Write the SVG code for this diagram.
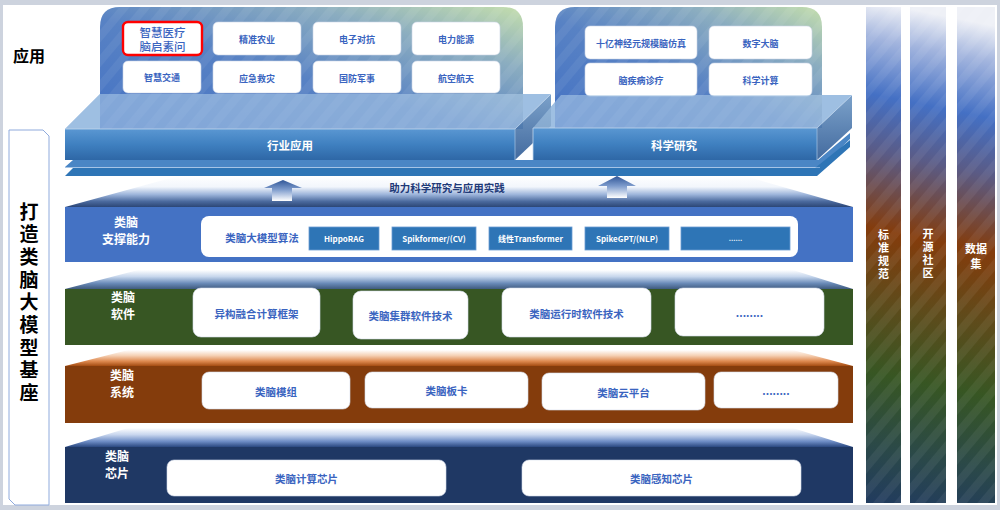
<svg xmlns="http://www.w3.org/2000/svg" width="1000" height="510" viewBox="0 0 1000 510">
  <defs>
    <style>
      text { font-family: "Noto Sans CJK SC", "Liberation Sans", sans-serif; text-anchor: middle; dominant-baseline: central; }
      .vert { writing-mode: vertical-rl; text-orientation: upright; }
      .card { fill: #ffffff; stroke: #c9d3e6; stroke-width: 0.6; }
      .card-t { fill: #3a64c0; font-size: 9px; font-weight: 700; }
      .item { fill: #ffffff; stroke: #d5dceb; stroke-width: 0.6; }
      .item-t { fill: #3a64c0; font-size: 10.5px; font-weight: 700; }
      .layer-t { fill: #ffffff; font-size: 12px; font-weight: 700; }
      .tag { fill: #2e75b6; stroke: #6a9bd3; stroke-width: 0.8; }
      .tag-t { fill: #ffffff; font-size: 8px; font-weight: 700; }
      .col-t { fill: #ffffff; font-size: 11px; font-weight: 700; }
      .slab-t { fill: #ffffff; font-size: 11.5px; font-weight: 700; }
      .streak { fill: url(#streaks); }
    </style>

    <!-- application panels -->
    <linearGradient id="panelFill" x1="0" y1="1" x2="1" y2="0">
      <stop offset="0" stop-color="#4472c4"/>
      <stop offset="0.45" stop-color="#5882c4"/>
      <stop offset="0.75" stop-color="#8badc0"/>
      <stop offset="1" stop-color="#c4deac"/>
    </linearGradient>
    <pattern id="streaks" width="16" height="16" patternUnits="userSpaceOnUse" patternTransform="rotate(40)">
      <rect width="8" height="16" fill="#ffffff" opacity="0.06"/>
    </pattern>

    <!-- platform slabs -->
    <linearGradient id="slabFront" x1="0" y1="0" x2="0" y2="1">
      <stop offset="0" stop-color="#5a97d2"/>
      <stop offset="0.5" stop-color="#3f80c0"/>
      <stop offset="1" stop-color="#2e67a6"/>
    </linearGradient>
    <linearGradient id="slabSide" x1="0" y1="0" x2="0" y2="1">
      <stop offset="0" stop-color="#6d97c4"/>
      <stop offset="1" stop-color="#2e5a94"/>
    </linearGradient>

    <!-- layer lids -->
    <linearGradient id="lidSupport" x1="0" y1="0" x2="0" y2="1">
      <stop offset="0" stop-color="#ffffff"/>
      <stop offset="0.35" stop-color="#f2f6fc"/>
      <stop offset="0.6" stop-color="#9cb4da"/>
      <stop offset="0.82" stop-color="#4b6a9e"/>
      <stop offset="1" stop-color="#2c4676"/>
    </linearGradient>
    <linearGradient id="lidSoftware" x1="0" y1="0" x2="0" y2="1">
      <stop offset="0" stop-color="#ffffff"/>
      <stop offset="0.35" stop-color="#c6d6ec"/>
      <stop offset="0.7" stop-color="#6a8bb8"/>
      <stop offset="1" stop-color="#3f5a7e"/>
    </linearGradient>
    <linearGradient id="lidSystem" x1="0" y1="0" x2="0" y2="1">
      <stop offset="0" stop-color="#ffffff"/>
      <stop offset="0.35" stop-color="#f5d0b4"/>
      <stop offset="0.7" stop-color="#de8a50"/>
      <stop offset="1" stop-color="#a44c12"/>
    </linearGradient>
    <linearGradient id="lidChip" x1="0" y1="0" x2="0" y2="1">
      <stop offset="0" stop-color="#ffffff"/>
      <stop offset="0.35" stop-color="#c8d6ee"/>
      <stop offset="0.7" stop-color="#6f8ec6"/>
      <stop offset="1" stop-color="#2a4880"/>
    </linearGradient>

    <!-- upward arrows -->
    <linearGradient id="arrowFill" x1="0" y1="0" x2="0" y2="1">
      <stop offset="0" stop-color="#2f5597"/>
      <stop offset="0.45" stop-color="#7d9bcc"/>
      <stop offset="1" stop-color="#ffffff"/>
    </linearGradient>

    <!-- cross-cutting columns -->
    <linearGradient id="columnFill" gradientUnits="userSpaceOnUse" x1="900" y1="7" x2="800" y2="503">
      <stop offset="0" stop-color="#eef0f6"/>
      <stop offset="0.07" stop-color="#a3b5de"/>
      <stop offset="0.18" stop-color="#4470c4"/>
      <stop offset="0.29" stop-color="#5a5b86"/>
      <stop offset="0.44" stop-color="#843c0c"/>
      <stop offset="0.58" stop-color="#5e4b1b"/>
      <stop offset="0.72" stop-color="#375623"/>
      <stop offset="0.86" stop-color="#2b4948"/>
      <stop offset="1" stop-color="#1f3864"/>
    </linearGradient>
  </defs>

  <!-- page frame -->
  <rect width="1000" height="510" fill="#cdd3de"/>
  <rect x="3" y="5" width="994" height="500" fill="#ffffff"/>

  <!-- side captions -->
  <g id="caption-app">
    <text x="29" y="55" style="font-size:16px;font-weight:700;fill:#000">应用</text>
  </g>
  <g id="caption-foundation">
    <path d="M9,130 H43 L49,136 V505 H15 L9,499 Z" fill="#ffffff" stroke="#8faadc" stroke-width="1"/>
    <text class="vert" x="29" y="304" style="font-size:19px;font-weight:700;fill:#000;letter-spacing:3.7px">打造类脑大模型基座</text>
  </g>

  <!-- solid base beneath the translucent slab tops -->
  <polygon points="65,129 515,129 551,94 100,94" fill="#86abd9"/>
  <polygon points="533,128 817,128 852,95 561,95" fill="#86abd9"/>

  <!-- industry application panel -->
  <g id="industry-panel">
    <path d="M100,129 V27 Q100,7 120,7 H503 Q523,7 523,27 V129 Z" fill="url(#panelFill)"/>
    <path d="M100,129 V27 Q100,7 120,7 H503 Q523,7 523,27 V129 Z" class="streak"/>
    <g id="node-medical">
      <rect x="123" y="22" width="79" height="33" rx="5" fill="#ffffff" stroke="#ff0000" stroke-width="2.4"/>
      <text x="162.5" y="31.5" style="fill:#3a64c0;font-size:11.5px;font-weight:500">智慧医疗</text>
      <text x="162.5" y="45.5" style="fill:#3a64c0;font-size:11.5px;font-weight:500">脑启素问</text>
    </g>
    <g id="node-agriculture">
      <rect class="card" x="213" y="22" width="88" height="33" rx="5"/>
      <text class="card-t" x="257" y="39">精准农业</text>
    </g>
    <g id="node-ew">
      <rect class="card" x="313" y="22" width="88" height="33" rx="5"/>
      <text class="card-t" x="357" y="39">电子对抗</text>
    </g>
    <g id="node-power">
      <rect class="card" x="412" y="22" width="88" height="33" rx="5"/>
      <text class="card-t" x="456" y="39">电力能源</text>
    </g>
    <g id="node-traffic">
      <rect class="card" x="123" y="61" width="78" height="32" rx="5"/>
      <text class="card-t" x="162" y="77">智慧交通</text>
    </g>
    <g id="node-rescue">
      <rect class="card" x="213" y="61" width="88" height="32" rx="5"/>
      <text class="card-t" x="257" y="78">应急救灾</text>
    </g>
    <g id="node-defense">
      <rect class="card" x="313" y="61" width="88" height="32" rx="5"/>
      <text class="card-t" x="357" y="78">国防军事</text>
    </g>
    <g id="node-aerospace">
      <rect class="card" x="412" y="61" width="88" height="32" rx="5"/>
      <text class="card-t" x="456" y="78">航空航天</text>
    </g>
  </g>

  <!-- scientific research panel -->
  <g id="science-panel">
    <path d="M555,128 V27 Q555,7 575,7 H802 Q822,7 822,27 V128 Z" fill="url(#panelFill)"/>
    <path d="M555,128 V27 Q555,7 575,7 H802 Q822,7 822,27 V128 Z" class="streak"/>
    <g id="node-brain-sim">
      <rect class="card" x="585" y="26" width="112" height="33" rx="5"/>
      <text class="card-t" x="641" y="43">十亿神经元规模脑仿真</text>
    </g>
    <g id="node-digital-brain">
      <rect class="card" x="709" y="26" width="103" height="33" rx="5"/>
      <text class="card-t" x="760.5" y="43">数字大脑</text>
    </g>
    <g id="node-diagnosis">
      <rect class="card" x="585" y="63" width="112" height="33" rx="5"/>
      <text class="card-t" x="641" y="80">脑疾病诊疗</text>
    </g>
    <g id="node-sci-computing">
      <rect class="card" x="709" y="63" width="103" height="33" rx="5"/>
      <text class="card-t" x="760.5" y="80">科学计算</text>
    </g>
  </g>

  <!-- platform slabs: industry application / scientific research -->
  <g id="platform">
    <polygon points="73,160 818,160 850,133 850,139 821,167 65,167" fill="#4a86c5"/>
    <polygon points="73,168 815,168 850,140 850,147 817,176 65,176" fill="#2e75b6"/>
    <line x1="65" y1="167.5" x2="820" y2="167.5" stroke="#8fb5df" stroke-width="0.8"/>

    <g id="slab-industry">
      <polygon points="65,129 515,129 551,94 100,94" fill="#b3cfea" opacity="0.55"/>
      <polygon points="515,129 551,94 551,126 515,160" fill="url(#slabSide)" opacity="0.9"/>
      <rect x="65" y="129" width="450" height="31" fill="url(#slabFront)"/>
      <polyline points="65,129 515,129 551,94" fill="none" stroke="#c2d7ee" stroke-width="0.8"/>
      <line x1="515" y1="129" x2="515" y2="160" stroke="#9dbde0" stroke-width="0.8"/>
      <text class="slab-t" x="290" y="145">行业应用</text>
    </g>
    <g id="slab-science">
      <polygon points="533,128 817,128 852,95 561,95" fill="#b3cfea" opacity="0.55"/>
      <polygon points="817,128 852,95 852,128 817,160" fill="url(#slabSide)" opacity="0.9"/>
      <rect x="533" y="128" width="284" height="32" fill="url(#slabFront)"/>
      <polyline points="533,160 533,128 817,128 852,95" fill="none" stroke="#c2d7ee" stroke-width="0.8"/>
      <line x1="817" y1="128" x2="817" y2="160" stroke="#9dbde0" stroke-width="0.8"/>
      <text class="slab-t" x="674" y="145">科学研究</text>
    </g>
  </g>

  <!-- layer: support capability -->
  <g id="layer-support">
    <polygon points="65,207 178,176 745,176 853,207" fill="url(#lidSupport)"/>
    <text x="447" y="187" style="fill:#1f3a78;font-size:10.5px;font-weight:700">助力科学研究与应用实践</text>
    <rect x="65" y="207" width="788" height="55" fill="#4472c4"/>
    <text class="layer-t" x="126" y="221">类脑</text>
    <text class="layer-t" x="126" y="238">支撑能力</text>
    <rect x="201" y="216" width="597" height="41" rx="8" fill="#ffffff"/>
    <text class="item-t" x="262" y="237">类脑大模型算法</text>
    <g id="tag-hipporag">
      <rect class="tag" x="309" y="227" width="70" height="23"/>
      <text class="tag-t" x="344" y="238.5">HippoRAG</text>
    </g>
    <g id="tag-spikformer">
      <rect class="tag" x="392" y="227" width="84" height="23"/>
      <text class="tag-t" x="434" y="238.5">Spikformer/(CV)</text>
    </g>
    <g id="tag-linear-transformer">
      <rect class="tag" x="489" y="227" width="83" height="23"/>
      <text class="tag-t" x="530.5" y="238.5">线性Transformer</text>
    </g>
    <g id="tag-spikegpt">
      <rect class="tag" x="585" y="227" width="84" height="23"/>
      <text class="tag-t" x="627" y="238.5">SpikeGPT/(NLP)</text>
    </g>
    <g id="tag-more">
      <rect class="tag" x="681" y="227" width="109" height="23"/>
      <text class="tag-t" x="735.5" y="238" style="font-size:7px">......</text>
    </g>
  </g>

  <!-- layer: software -->
  <g id="layer-software">
    <polygon points="65,289 138,270 793,270 853,289" fill="url(#lidSoftware)"/>
    <rect x="65" y="289" width="788" height="56" fill="#375623"/>
    <text class="layer-t" x="123" y="296">类脑</text>
    <text class="layer-t" x="123" y="313">软件</text>
    <g id="item-hetero-framework">
      <rect class="item" x="193" y="288" width="127" height="49" rx="8"/>
      <text class="item-t" x="256.5" y="313">异构融合计算框架</text>
    </g>
    <g id="item-cluster-software">
      <rect class="item" x="353" y="291" width="115" height="48" rx="8"/>
      <text class="item-t" x="410.5" y="315">类脑集群软件技术</text>
    </g>
    <g id="item-runtime-software">
      <rect class="item" x="502" y="288" width="149" height="49" rx="8"/>
      <text class="item-t" x="576.5" y="313">类脑运行时软件技术</text>
    </g>
    <g id="item-software-more">
      <rect class="item" x="675" y="288" width="149" height="48" rx="8"/>
      <text class="item-t" x="749.5" y="312">........</text>
    </g>
  </g>

  <!-- layer: system -->
  <g id="layer-system">
    <polygon points="65,366 128,350 793,350 853,366" fill="url(#lidSystem)"/>
    <rect x="65" y="366" width="788" height="57" fill="#843c0c"/>
    <text class="layer-t" x="122" y="374">类脑</text>
    <text class="layer-t" x="122" y="391">系统</text>
    <g id="item-module">
      <rect class="item" x="202" y="372" width="148" height="37" rx="7"/>
      <text class="item-t" x="276" y="391">类脑模组</text>
    </g>
    <g id="item-board">
      <rect class="item" x="365" y="372" width="163" height="36" rx="7"/>
      <text class="item-t" x="446.5" y="390">类脑板卡</text>
    </g>
    <g id="item-cloud">
      <rect class="item" x="542" y="373" width="163" height="37" rx="7"/>
      <text class="item-t" x="623.5" y="392">类脑云平台</text>
    </g>
    <g id="item-system-more">
      <rect class="item" x="714" y="372" width="124" height="36" rx="7"/>
      <text class="item-t" x="776" y="390">........</text>
    </g>
  </g>

  <!-- layer: chip -->
  <g id="layer-chip">
    <polygon points="65,447 128,428 793,428 853,447" fill="url(#lidChip)"/>
    <rect x="65" y="447" width="788" height="56" fill="#1f3864"/>
    <text class="layer-t" x="117" y="455">类脑</text>
    <text class="layer-t" x="117" y="472">芯片</text>
    <g id="item-compute-chip">
      <rect class="item" x="167" y="460" width="279" height="36" rx="7"/>
      <text class="item-t" x="306.5" y="478">类脑计算芯片</text>
    </g>
    <g id="item-sensing-chip">
      <rect class="item" x="522" y="460" width="279" height="36" rx="7"/>
      <text class="item-t" x="661.5" y="478">类脑感知芯片</text>
    </g>
  </g>

  <!-- connectors: upward arrows from the foundation to the applications -->
  <g id="connectors">
    <path d="M264,188 L283,180 L302,188 L292,188 L292,201 L272,201 L272,188 Z" fill="url(#arrowFill)"/>
    <path d="M598,186 L617,176 L636,186 L627,186 L627,198 L607,198 L607,186 Z" fill="url(#arrowFill)"/>
  </g>

  <!-- cross-cutting columns -->
  <g id="col-standards">
    <rect x="866" y="7" width="35" height="496" fill="url(#columnFill)"/>
    <rect x="866" y="7" width="35" height="496" class="streak"/>
    <text class="col-t vert" x="883.5" y="255" style="letter-spacing:2px">标准规范</text>
  </g>
  <g id="col-community">
    <rect x="910" y="7" width="36" height="496" fill="url(#columnFill)"/>
    <rect x="910" y="7" width="36" height="496" class="streak"/>
    <text class="col-t vert" x="928" y="254" style="letter-spacing:2px">开源社区</text>
  </g>
  <g id="col-datasets">
    <rect x="957" y="7" width="38" height="496" fill="url(#columnFill)"/>
    <rect x="957" y="7" width="38" height="496" class="streak"/>
    <text class="col-t" x="976" y="248">数据</text>
    <text class="col-t" x="976" y="263">集</text>
  </g>
</svg>
